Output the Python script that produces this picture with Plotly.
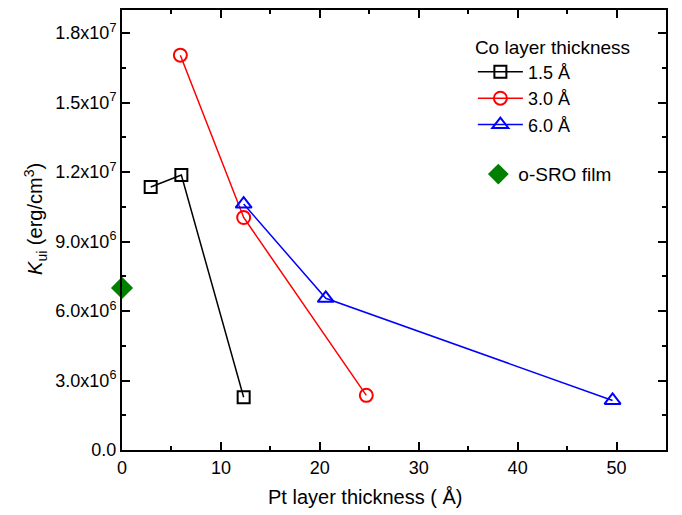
import plotly.graph_objects as go

# Data
pt_15 = [2.9, 6.0, 12.3]
k_15 = [1.136e7, 1.187e7, 2.28e6]
pt_30 = [5.9, 12.3, 24.7]
k_30 = [1.705e7, 1.004e7, 2.36e6]
pt_60 = [12.3, 20.6, 49.6]
k_60 = [1.062e7, 6.55e6, 2.14e6]
pt_sro = [0.0]
k_sro = [7.0e6]

y_tickvals = [0, 3e6, 6e6, 9e6, 1.2e7, 1.5e7, 1.8e7]
y_ticktext = ["0.0", "3.0x10<sup>6</sup>", "6.0x10<sup>6</sup>", "9.0x10<sup>6</sup>",
              "1.2x10<sup>7</sup>", "1.5x10<sup>7</sup>", "1.8x10<sup>7</sup>"]
x_title = "Pt layer thickness ( Å)"
y_title = "<i>K</i><sub>ui</sub> (erg/cm<sup>3</sup>)"

FONT = "Liberation Sans, Arial, sans-serif"

fig = go.Figure()
fig.add_trace(go.Scatter(x=pt_15, y=k_15, mode="lines+markers", name="1.5 Å",
                         line=dict(color="black", width=1.5),
                         marker=dict(symbol="square-open", size=12, color="black", line=dict(width=2))))
fig.add_trace(go.Scatter(x=pt_30, y=k_30, mode="lines+markers", name="3.0 Å",
                         line=dict(color="red", width=1.5),
                         marker=dict(symbol="circle-open", size=13, color="red", line=dict(width=2))))
fig.add_trace(go.Scatter(x=pt_60, y=k_60, mode="lines+markers", name="6.0 Å",
                         line=dict(color="blue", width=1.5),
                         marker=dict(symbol="triangle-up-open", size=14, color="blue", line=dict(width=2))))
fig.add_trace(go.Scatter(x=pt_sro, y=k_sro, mode="markers", name="o-SRO film",
                         marker=dict(symbol="diamond", size=17, color="#007f00"),
                         legend="legend2", cliponaxis=False))

axis_common = dict(showline=True, linecolor="black", linewidth=2, mirror="ticks",
                   ticks="inside", ticklen=8, tickwidth=1.5, tickcolor="black",
                   showgrid=False, zeroline=False,
                   tickfont=dict(family=FONT, size=18, color="black"))

fig.update_layout(
    width=674, height=507,
    margin=dict(l=114, r=16, t=0, b=65),
    plot_bgcolor="white", paper_bgcolor="white",
    font=dict(family=FONT, size=18, color="black"),
    xaxis=dict(range=[0, 55], dtick=10, tick0=0,
               minor=dict(dtick=5, ticks="inside", ticklen=4, tickcolor="black", tickwidth=1.5),
               **axis_common),
    yaxis=dict(range=[0, 1.9e7], tickmode="array", tickvals=y_tickvals, ticktext=y_ticktext,
               minor=dict(dtick=1.5e6, ticks="inside", ticklen=4, tickcolor="black", tickwidth=1.5),
               **axis_common),
    legend=dict(x=0.645, y=0.957, xanchor="left", yanchor="top",
                title=dict(text="Co layer thickness", font=dict(family=FONT, size=19)),
                font=dict(family=FONT, size=18), bgcolor="rgba(0,0,0,0)",
                tracegroupgap=0, itemwidth=45),
    legend2=dict(x=0.655, y=0.67, xanchor="left", yanchor="top",
                 font=dict(family=FONT, size=19), bgcolor="rgba(0,0,0,0)"),
    showlegend=True,
    annotations=[
        dict(text=x_title, xref="paper", yref="paper", x=0.447, y=-0.106,
             xanchor="center", yanchor="middle", showarrow=False,
             font=dict(family=FONT, size=20, color="black")),
        dict(text=y_title, xref="paper", yref="paper", x=-0.16, y=0.525,
             xanchor="center", yanchor="middle", showarrow=False, textangle=-90,
             font=dict(family=FONT, size=20, color="black")),
    ],
)

fig.write_html("out.html")
